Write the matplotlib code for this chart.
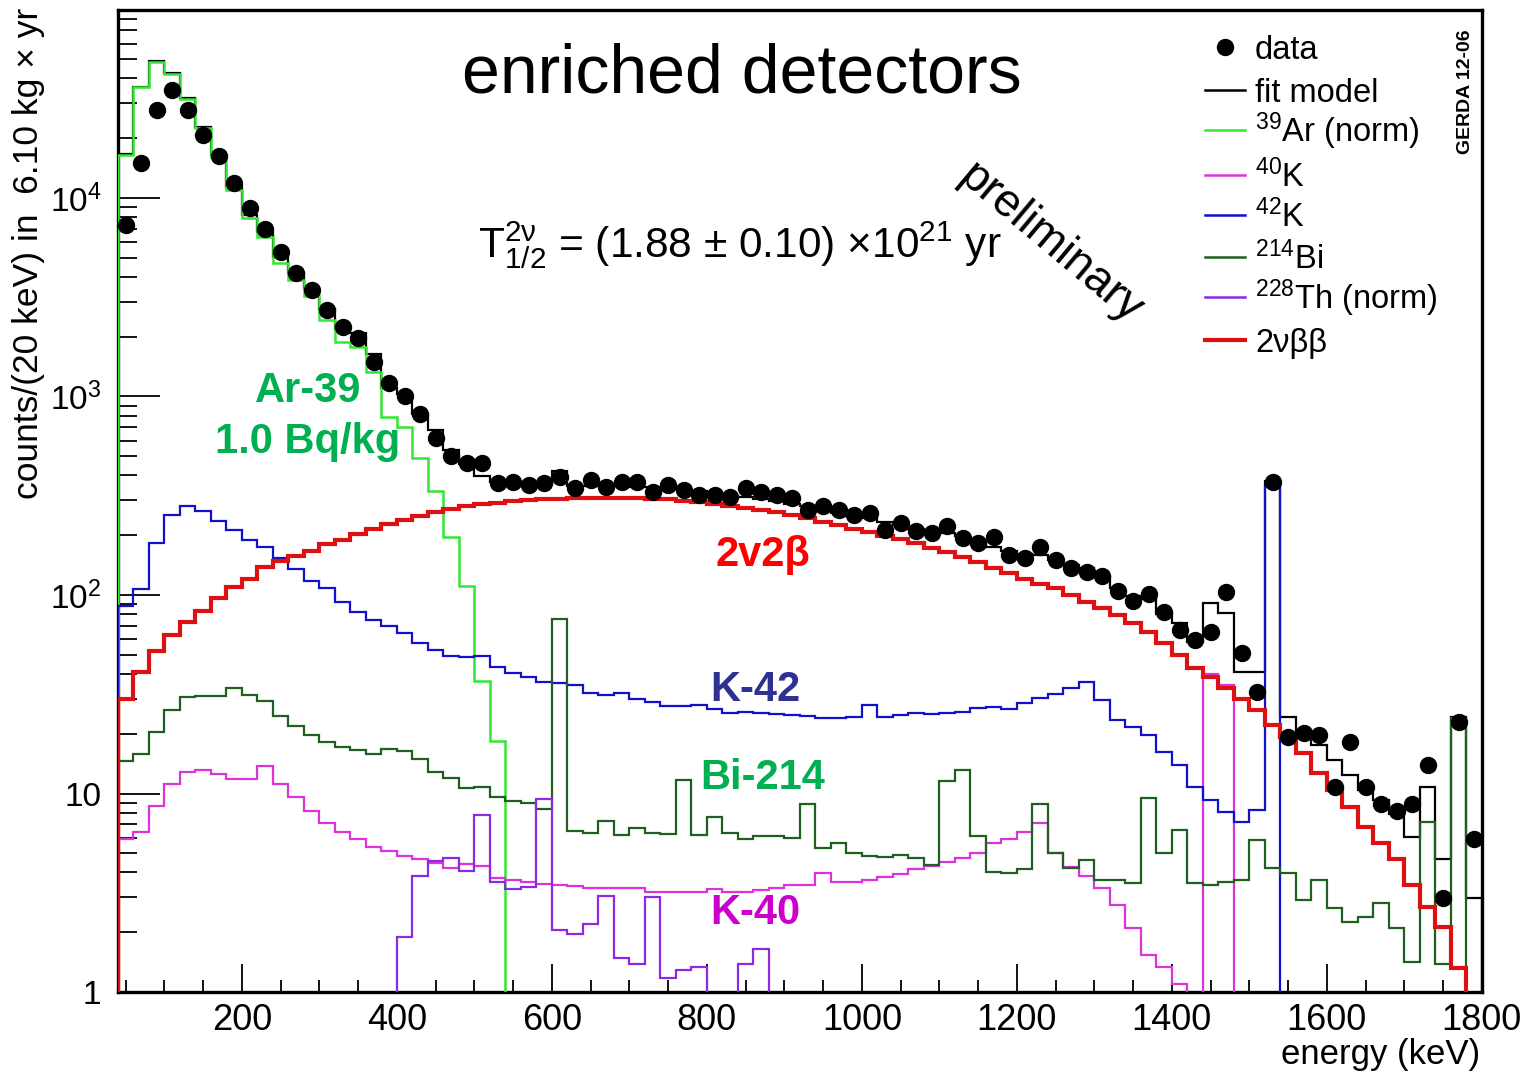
import numpy as np
import matplotlib
matplotlib.use('Agg')
import matplotlib.pyplot as plt
from matplotlib.ticker import MultipleLocator, LogLocator, NullFormatter

plt.rcParams['font.family'] = ['Liberation Sans', 'DejaVu Sans']
plt.rcParams['mathtext.fontset'] = 'custom'
plt.rcParams['mathtext.rm'] = 'Liberation Sans'
plt.rcParams['mathtext.it'] = 'Liberation Sans:italic'
plt.rcParams['mathtext.bf'] = 'Liberation Sans:bold'

# 20 keV bins from 40 to 1800 keV
bin_edges = np.arange(40, 1801, 20)

data = [7310, 15070, 27700, 35000, 27700, 20800, 16300, 11940, 8870, 6950,
        5370, 4180, 3440, 2730, 2250, 1965, 1497, 1165, 1010, 815,
        617, 503, 461, 461, 365, 372, 358, 365, 394, 345,
        380, 351, 372, 372, 331, 358, 338, 319, 319, 313,
        345, 331, 319, 307, 269, 280, 269, 252, 258, 212,
        231, 209, 205, 222, 193, 182, 197, 159, 153, 175,
        150, 136, 130, 124, 105, 93, 101, 82, 66.7, 59,
        65, 104, 50.8, 32.6, 372, 19.3, 20.1, 19.7, 10.8, 18.2,
        10.8, 8.9, 8.2, 8.9, 13.9, 2.97, 22.8, 5.9]

fit_model = [16640, 36270, 48860, 42560, 31800, 22790, 16480, 11370, 8250, 6745,
             5030, 4180, 3500, 2745, 2200, 2090, 1640, 1107, 1030, 820,
             675, 540, 458, 396, 371, 353, 355, 361, 420, 354,
             352, 354, 352, 349, 348, 341, 343, 333, 326, 317,
             311, 304, 296, 286, 280, 267, 258, 249, 243, 232,
             225, 216, 207, 205, 199, 184, 174, 166, 160, 159,
             150, 142, 137, 123, 109, 99, 96, 80, 72, 58,
             91, 81, 41, 41, 376, 24.4, 20.5, 17.6, 14.7, 12.4,
             10.4, 9.3, 7.9, 6.06, 10.8, 4.7, 24.4, 2.96]

ar39 = [16500, 36100, 48600, 42200, 31400, 22400, 16100, 11000, 7900, 6390,
        4690, 3860, 3190, 2430, 1890, 1780, 1330, 791, 705, 488,
        336, 196, 111, 37, 18.4] + [0] * 63

k40 = [5.9, 6.4, 8.7, 11.2, 12.9, 13.2, 12.5, 11.8, 11.8, 13.7,
       11.2, 9.6, 8.15, 7.1, 6.4, 5.9, 5.36, 5.15, 4.85, 4.66,
       4.48, 4.22, 4.39, 4.3, 3.74, 3.67, 3.59, 3.52, 3.45, 3.42,
       3.33, 3.33, 3.33, 3.33, 3.2, 3.2, 3.2, 3.2, 3.29, 3.2,
       3.2, 3.26, 3.33, 3.46, 3.46, 3.99, 3.6, 3.6, 3.66, 3.81,
       3.93, 4.15, 4.31, 4.53, 4.71, 5.0, 5.65, 5.87, 6.42, 7.13,
       5.0, 4.28, 3.84, 3.33, 2.74, 2.09, 1.54, 1.34, 1.1, 0,
       40, 35] + [0] * 16

k42 = [88, 107, 182, 254, 281, 264, 237, 212, 190, 174,
       153, 135, 117, 108, 92, 82, 75, 70, 64, 57,
       53, 49, 48.5, 49, 43.6, 40.3, 38.8, 36.5, 36, 35,
       32, 31.4, 32, 29.8, 29, 27.6, 27.6, 27.9, 26.6, 25.3,
       25.8, 25.3, 25.1, 24.9, 24.6, 23.9, 23.9, 24.2, 27.9, 24.2,
       24.9, 25.3, 25.1, 25.3, 25.8, 26.9, 27.4, 26.6, 28.5, 30.2,
       31.7, 33.9, 36.6, 29.6, 23.5, 21.7, 19.7, 16.2, 13.9, 10.8,
       9.3, 8.1, 7.2, 8.3, 350] + [0] * 13

bi214 = [14.5, 15.8, 20.5, 26.3, 30.5, 31.1, 31.1, 34.1, 31.4, 29.3,
         24.7, 21.9, 19.6, 18.1, 17.2, 16.5, 15.8, 16.7, 16.3, 15.0,
         12.9, 12.0, 10.6, 10.8, 9.6, 9.2, 9.0, 8.4, 75.5, 6.5,
         6.3, 7.3, 6.2, 6.7, 6.35, 6.25, 11.7, 6.2, 7.6, 6.3,
         5.9, 6.1, 6.1, 5.95, 8.85, 5.3, 5.65, 5.03, 4.84, 4.8,
         4.9, 4.71, 4.36, 11.5, 13.2, 6.1, 4.04, 3.99, 4.15, 8.85,
         5.0, 4.2, 4.62, 3.67, 3.67, 3.53, 9.5, 5.0, 6.55, 3.53,
         3.46, 3.6, 3.67, 5.83, 4.2, 3.96, 2.9, 3.67, 2.64, 2.26,
         2.4, 2.8, 2.1, 1.42, 7.2, 1.39, 23.9, 0]

th228 = [0] * 18 + [1.9, 3.82,
         4.57, 4.75, 4.05, 7.8, 3.59, 3.32, 3.38, 9.4, 2.05, 1.97,
         2.2, 3.05, 1.48, 1.39, 3.02, 1.17, 1.29, 1.33, 0, 0,
         1.39, 1.64] + [0] * 46

bb2nu = [30, 41, 52, 63, 73, 83, 97, 110, 121, 138,
         148, 157, 167, 181, 190, 204, 216, 228, 239, 251,
         262, 272, 280, 287, 292, 296, 300, 303, 305, 307,
         308, 309, 309, 308, 306, 303, 299, 294, 288, 282,
         275, 268, 261, 252, 243, 234, 225, 216, 207, 199,
         191, 182, 173, 164, 155, 146, 137, 129, 121, 113,
         108, 100, 92, 86, 79, 72, 65, 57, 50, 43,
         38.5, 34, 30, 26.4, 22.1, 19.3, 16, 12.7, 10.4, 8.6,
         6.8, 5.6, 4.7, 3.46, 2.69, 2.13, 1.32, 0.8]

centers = (bin_edges[:-1] + bin_edges[1:]) / 2

fig = plt.figure(figsize=(15.24, 10.75), dpi=100)
ax = fig.add_axes([0.0774, 0.0772, 0.8949, 0.9135])


def hist(vals, color, lw, z):
    v = np.clip(np.array(vals, dtype=float), 0.9, None)
    ax.stairs(v, bin_edges, baseline=0.01, color=color, lw=lw, zorder=z)


hist(fit_model, 'black', 1.6, 2)
hist(ar39, '#33e633', 1.8, 3)
hist(k40, '#dd33dd', 1.6, 3)
hist(k42, '#1111cc', 1.6, 3)
hist(bi214, '#1f5f1f', 1.6, 3)
hist(th228, '#8a2be2', 1.6, 3)
hist(bb2nu, '#dd1111', 3.0, 4)
ax.plot(centers, data, 'o', color='black', ms=11.5, zorder=6)

ax.set_yscale('log')
ax.set_xlim(40, 1800)
ax.set_ylim(1, 88500)

ax.set_xticks(range(200, 1801, 200))
ax.xaxis.set_minor_locator(MultipleLocator(50))
ax.set_yticks([1, 10, 100, 1000, 10000])
ax.set_yticklabels(['1', '10', '$10^{2}$', '$10^{3}$', '$10^{4}$'])
ax.yaxis.set_minor_locator(LogLocator(base=10, subs=range(2, 10)))
ax.yaxis.set_minor_formatter(NullFormatter())

ax.tick_params(axis='x', which='major', direction='in', length=20, width=1.3,
               labelsize=26, pad=8, top=False)
ax.tick_params(axis='x', which='minor', direction='in', length=9, width=1.3, top=False)
ax.tick_params(axis='y', which='major', direction='in', length=30, width=1.3,
               labelsize=24, pad=12, right=False)
ax.tick_params(axis='y', which='minor', direction='in', length=14, width=1.3, right=False)
for s in ax.spines.values():
    s.set_linewidth(2.4)

fig.text(0.019, 0.993, 'counts/(20 keV) in  6.10 kg × yr', rotation=90,
         ha='center', va='top', fontsize=25.5)
fig.text(0.971, 0.019, 'energy (keV)', ha='right', va='center', fontsize=25)

tr = ax.transAxes
ax.text(0.4576, 0.934, 'enriched detectors', ha='center', va='center',
        fontsize=49, transform=tr)
ax.text(0.456, 0.7607, r'$\mathrm{T}^{\mathrm{2ν}}_{1/2}$ = (1.88 ± 0.10) ×10$^{21}$ yr',
        ha='center', va='center', fontsize=30.5, transform=tr)
ax.text(0.6834, 0.7627, 'preliminary', rotation=-40, ha='center', va='center',
        fontsize=33, rotation_mode='anchor', transform=tr)
ax.text(0.9878, 0.9165, 'GERDA 12-06', rotation=90, ha='center', va='center',
        fontsize=14, fontweight='bold', transform=tr)

labels = [('Ar-39', '#00b050', 0.1393, 0.612),
          ('1.0 Bq/kg', '#00b050', 0.1393, 0.560),
          ('2v2β', '#ff0000', 0.473, 0.445),
          ('K-42', '#2e3192', 0.467, 0.3076),
          ('Bi-214', '#00b050', 0.473, 0.218),
          ('K-40', '#cc00cc', 0.467, 0.0805)]
for txt, col, xa, ya in labels:
    ax.text(xa, ya, txt, color=col, fontsize=30, fontweight='bold',
            ha='center', va='center', transform=tr)

# legend, drawn entry by entry to follow the ROOT layout
leg_labels = ['data', 'fit model', '$^{39}$Ar (norm)', '$^{40}$K', '$^{42}$K',
              '$^{214}$Bi', '$^{228}$Th (norm)', '2νββ']
leg_colors = ['black', 'black', '#33e633', '#dd33dd', '#1111cc', '#1f5f1f',
              '#8a2be2', '#dd1111']
leg_rows = [47, 90, 130, 175, 215, 257, 297, 340]
for lab, col, row in zip(leg_labels, leg_colors, leg_rows):
    ya = (992 - row) / 982
    if lab == 'data':
        ax.plot([0.8118], [ya], 'o', color=col, ms=11.5, transform=tr,
                clip_on=False)
    else:
        ax.plot([0.797, 0.8264], [ya, ya], color=col,
                lw=3.0 if col == '#dd1111' else 1.8, transform=tr,
                clip_on=False)
    ax.text(0.8338, ya - 12 / 982, lab, fontsize=23.5, ha='left', va='baseline',
            transform=tr)

fig.savefig('out.png', dpi=100)
